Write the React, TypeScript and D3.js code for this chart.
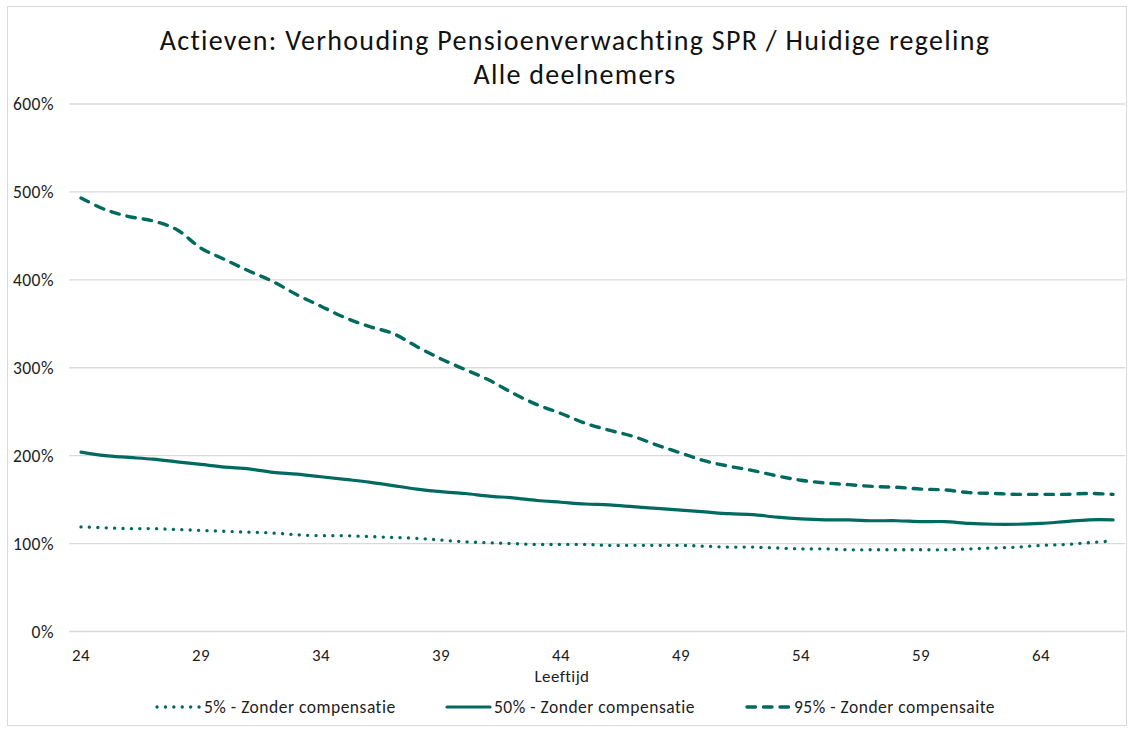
import React from "react";
import * as d3 from "d3";

const ages: number[] = [24,25,26,27,28,29,30,31,32,33,34,35,36,37,38,39,40,41,42,43,44,45,46,47,48,49,50,51,52,53,54,55,56,57,58,59,60,61,62,63,64,65,66,67];
const p5: number[] = [119,118,117,117,116,115,114,113,112,110,109,109,108,107,106,104,102,101,100,99,99,99,98,98,98,98,97,96,96,95,94,94,93,93,93,93,93,94,95,96,98,99,101,103];
const p50: number[] = [204,200,198,196,193,190,187,185,181,179,176,173,170,166,162,159,157,154,152,149,147,145,144,142,140,138,136,134,133,130,128,127,127,126,126,125,125,123,122,122,123,125,127,127];
const p95: number[] = [493,480,472,467,457,436,423,410,398,383,370,357,347,339,324,310,298,286,271,258,248,237,229,222,212,203,194,188,183,177,172,169,167,165,164,162,161,158,157,156,156,156,157,156];
const yTicks: number[] = [0,100,200,300,400,500,600];
const xTickLabels: number[] = [24,29,34,39,44,49,54,59,64];
const seriesNames: string[] = ["5% - Zonder compensatie","50% - Zonder compensatie","95% - Zonder compensaite"];
const titleLines: string[] = ["Actieven: Verhouding Pensioenverwachting SPR / Huidige regeling","Alle deelnemers"];
const xAxisTitle = "Leeftijd";

const W = 1132, H = 731;
const COLOR = "#006a60";
const FONT = "Carlito, Calibri, Lato, sans-serif";
const TEXT = "#1e1e1e";

export default function App() {
  const x = d3.scalePoint<number>().domain(ages).range([69, 1125]).padding(0.5);
  const y = d3.scaleLinear().domain([0, 600]).range([631.5, 104]);
  const line = d3.line<number>()
    .x((_, i) => x(ages[i]) as number)
    .y((d) => y(d))
    .curve(d3.curveCatmullRom.alpha(0.5));

  const series = [
    { values: p5, dash: "0.1 8.3", width: 3.3 },
    { values: p50, dash: "", width: 3.2 },
    { values: p95, dash: "8.5 8", width: 3.4 },
  ];
  const legendX = [155, 445, 745];
  const sampleW = 45;

  return (
    <svg width={W} height={H} style={{ position: "absolute", left: 0, top: 0, background: "#fff" }} fontFamily={FONT}>
      <rect x={7.5} y={6.5} width={1119} height={719} fill="#fff" stroke="#d9d9d9" strokeWidth={1} />
      {titleLines.map((t, i) => (
        <text key={t} x={575} y={50 + i * 34} textAnchor="middle" fontSize={28} letterSpacing={1.3} fill="#111">{t}</text>
      ))}
      {yTicks.map((v) => (
        <g key={v}>
          <line x1={69} x2={1125} y1={y(v)} y2={y(v)} stroke="#d9d9d9" strokeWidth={1.3} />
          <text x={54} y={y(v)} textAnchor="end" dominantBaseline="central" fontSize={17.5} letterSpacing={0.5} fill={TEXT}>{v + "%"}</text>
        </g>
      ))}
      {xTickLabels.map((a) => (
        <text key={a} x={x(a) as number} y={655} textAnchor="middle" dominantBaseline="central" fontSize={17} letterSpacing={0.3} fill={TEXT}>{a}</text>
      ))}
      <text x={562} y={676} textAnchor="middle" dominantBaseline="central" fontSize={17} letterSpacing={0.4} fill={TEXT}>{xAxisTitle}</text>
      {series.map((s, i) => (
        <path key={i} d={line(s.values) || ""} fill="none" stroke={COLOR} strokeWidth={s.width}
          strokeDasharray={s.dash || undefined} strokeLinecap="round" strokeLinejoin="round" />
      ))}
      {series.map((s, i) => (
        <g key={"l" + i}>
          <line x1={legendX[i] + 2} x2={legendX[i] + sampleW} y1={707} y2={707} stroke={COLOR} strokeWidth={s.width}
            strokeDasharray={s.dash || undefined} strokeLinecap="round" />
          <text x={legendX[i] + sampleW + 4} y={707} dominantBaseline="central" fontSize={17.5} letterSpacing={0.5} fill={TEXT}>{seriesNames[i]}</text>
        </g>
      ))}
    </svg>
  );
}
